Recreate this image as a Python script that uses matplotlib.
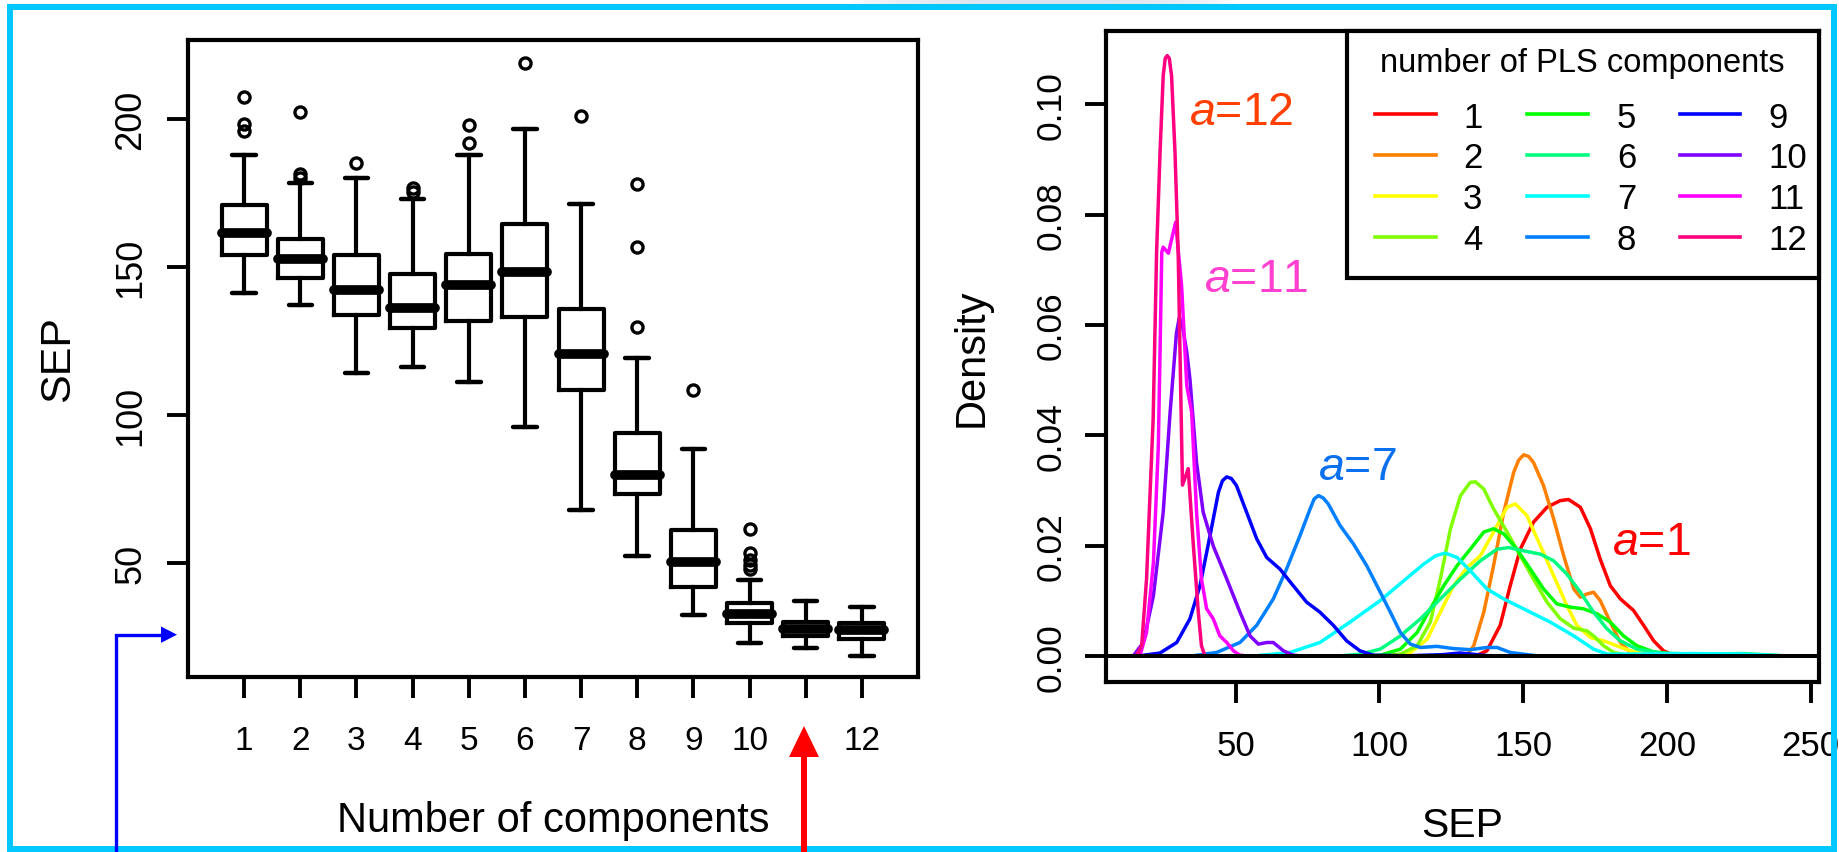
import matplotlib
matplotlib.use("Agg")
import matplotlib.pyplot as plt
import matplotlib.transforms as mtransforms
from matplotlib.lines import Line2D
from matplotlib.patches import Rectangle, Polygon
import numpy as np

plt.rcParams['font.family'] = ['Liberation Sans', 'DejaVu Sans']
plt.rcParams['mathtext.fontset'] = 'custom'
plt.rcParams['mathtext.rm'] = 'Liberation Sans'
plt.rcParams['mathtext.it'] = 'Liberation Sans:italic'

W, H, DPI = 1840, 853, 100

# ---------------- boxplot data: SEP per number of PLS components ----------------
components = [1, 2, 3, 4, 5, 6, 7, 8, 9, 10, 11, 12]
tick_labels = ['1', '2', '3', '4', '5', '6', '7', '8', '9', '10', '', '12']
sep_whislo = [141.2, 136.9, 114.1, 116.2, 111.0, 96.0, 67.9, 52.5, 32.3, 23.1, 21.3, 18.7]
sep_q1 = [153.9, 146.3, 133.8, 129.2, 131.6, 133.1, 108.3, 73.3, 41.8, 29.7, 25.3, 24.2]
sep_median = [161.5, 152.5, 142.0, 136.1, 143.7, 148.3, 120.4, 79.7, 50.2, 32.8, 27.7, 27.4]
sep_q3 = [170.7, 159.2, 153.8, 147.4, 154.2, 164.5, 135.8, 93.9, 61.0, 36.5, 30.0, 29.6]
sep_whishi = [187.7, 178.2, 179.9, 173.0, 187.6, 196.4, 171.2, 119.0, 88.5, 44.1, 37.2, 35.2]
sep_outliers = [[207.2, 198.1, 195.8], [202.2, 181.3, 179.9], [185.1], [176.7, 175.2],
                [197.8, 191.9], [218.6], [200.7], [178.0, 156.8, 129.7], [108.3],
                [61.5, 53.2, 51.0, 49.3, 48.0], [], []]

# ---------------- density curves of SEP for a = 1 .. 12 ----------------
sep_a1 = [128, 134, 137.4, 142, 145.5, 149, 153.6, 158.3, 162.9, 165.8, 169.9, 173.4, 176.8,
          180.3, 183.8, 188.4, 191.9, 195.4, 198.8, 202.3, 215, 240]
dens_a1 = [0, 0.0002, 0.001, 0.0056, 0.0128, 0.0194, 0.0243, 0.027, 0.0282, 0.0284, 0.027,
           0.0231, 0.0176, 0.0128, 0.0104, 0.0083, 0.0056, 0.0028, 0.001, 0.0002, 0.0001, 0]
sep_a2 = [125, 130.5, 132.8, 136.3, 139.7, 143.2, 146.7, 148.4, 150.2, 151.9, 153.6, 157.1,
          160.6, 164.1, 167.6, 169.9, 172.2, 174.5, 176.8, 180.3, 183.8, 187.3, 190.7, 195]
dens_a2 = [0, 0.0003, 0.0019, 0.008, 0.0164, 0.026, 0.0333, 0.0355, 0.0365, 0.0362, 0.0351,
           0.0309, 0.0249, 0.0182, 0.0122, 0.0107, 0.0113, 0.0116, 0.0101, 0.0062, 0.0025,
           0.0007, 0.0001, 0]
sep_a3 = [98, 105, 110.8, 116.6, 121.2, 125.8, 130.5, 135.1, 139.7, 144.4, 147.3, 151.3, 156.0,
          160.6, 165.2, 168.7, 173.4, 178, 182.6, 187.3, 191.9, 200]
dens_a3 = [0, 0.0001, 0.0007, 0.0031, 0.008, 0.0128, 0.0161, 0.0182, 0.0225, 0.027, 0.0276,
           0.0255, 0.02, 0.0146, 0.0092, 0.0056, 0.0034, 0.0028, 0.0019, 0.001, 0.0004, 0]
sep_a4 = [100, 107.3, 113.1, 117.7, 121.2, 124.7, 128.2, 131.6, 133.4, 136.3, 139.7, 144.4, 149,
          153.6, 158.3, 162.9, 167.6, 172.2, 174.5, 178, 181.5, 186.1, 192]
dens_a4 = [0, 0.0004, 0.0019, 0.0062, 0.014, 0.0231, 0.0291, 0.0315, 0.0316, 0.0303, 0.0267,
           0.0225, 0.0182, 0.014, 0.0098, 0.0068, 0.0051, 0.0046, 0.0037, 0.0019, 0.0007, 0.0002, 0]
sep_a5 = [92, 100.3, 107.3, 113.1, 117.7, 122.4, 127, 131.6, 136.3, 139.7, 143.2, 147.8, 152.5,
          157.1, 161.7, 166.4, 171, 175.7, 180.3, 184.9, 189.6, 195.4, 202.3, 220, 240]
dens_a5 = [0, 0.0002, 0.0013, 0.0043, 0.0086, 0.0128, 0.0164, 0.0194, 0.0225, 0.0231, 0.0222,
           0.0194, 0.0158, 0.0122, 0.0095, 0.0089, 0.0086, 0.0077, 0.0062, 0.0037, 0.0019, 0.0008,
           0.0004, 0.0003, 0]
sep_a6 = [85, 93.4, 100.3, 107.3, 114.3, 121.2, 128.2, 135.1, 140.9, 145, 150.2, 156, 160.6,
          165.2, 169.9, 174.5, 179.1, 183.8, 189.6, 197.7, 209.3, 226.7, 244]
dens_a6 = [0, 0.0004, 0.0013, 0.0037, 0.0068, 0.0104, 0.014, 0.0173, 0.0194, 0.0197, 0.0191,
           0.0185, 0.0173, 0.0149, 0.0116, 0.008, 0.005, 0.0028, 0.0013, 0.0006, 0.0004, 0.0005, 0]
sep_a7 = [52, 57.3, 68.9, 79.3, 89.8, 100.3, 108.5, 115.4, 119.5, 122.9, 127, 131.6, 137.4,
          143.2, 151.3, 159.4, 167.6, 174.5, 179.1, 186.1, 209.3, 226.7, 244]
dens_a7 = [0, 0.0001, 0.0007, 0.0025, 0.0062, 0.0101, 0.0137, 0.0167, 0.0182, 0.0187, 0.0179,
           0.0155, 0.0122, 0.0104, 0.0083, 0.0062, 0.0037, 0.0013, 0.0004, 0.0004, 0.0005, 0.0004, 0]
sep_a8 = [30, 35.3, 43.4, 51.5, 57.3, 63.1, 67.7, 72.4, 75.9, 77.3, 78.8, 80.4, 82.2, 86.3, 90.9,
          95.6, 100.3, 103.8, 107.3, 110.8, 114.3, 120, 125.8, 131.6, 137.4, 140.9, 145.5, 156]
dens_a8 = [0, 0.0001, 0.0007, 0.0025, 0.0056, 0.0104, 0.0158, 0.0219, 0.0267, 0.0285, 0.0291,
           0.0287, 0.0276, 0.0237, 0.0204, 0.0164, 0.0116, 0.008, 0.0043, 0.0022, 0.0016, 0.0018,
           0.0014, 0.0012, 0.0016, 0.0016, 0.0007, 0]
sep_a9 = [14, 16.7, 23.7, 29.5, 34.1, 37.6, 41.1, 44, 45.4, 46.9, 48.5, 50.3, 53.8, 57.3, 60.8,
          65.4, 70, 74.7, 79.3, 84, 88.6, 93.2, 97.9, 110, 122, 128, 134, 140]
dens_a9 = [0, 0.0001, 0.0006, 0.0025, 0.0068, 0.0128, 0.0219, 0.0297, 0.0318, 0.0325, 0.0322,
           0.0309, 0.0261, 0.0213, 0.0179, 0.0158, 0.0128, 0.0098, 0.008, 0.0056, 0.0028, 0.001,
           0.0002, 0.0001, 0.0003, 0.0006, 0.0003, 0]
sep_a10 = [12, 14.4, 17.9, 21.4, 24.8, 27.2, 29.4, 30.4, 31.5, 33.0, 34.1, 36.4, 38.7, 42.2,
           46.9, 51.5, 55, 57.9, 60.8, 63.1, 66.6, 70, 74]
dens_a10 = [0, 0.0001, 0.0025, 0.011, 0.0261, 0.0442, 0.0585, 0.0614, 0.0598, 0.0551, 0.0502,
            0.0351, 0.0261, 0.02, 0.014, 0.008, 0.0037, 0.0022, 0.0025, 0.0025, 0.001, 0.0002, 0]
sep_a11 = [14, 16.7, 19, 21.4, 23.1, 23.7, 24.3, 24.8, 26.6, 29.1, 31.2, 33, 34.7, 36.4, 38.1,
           39.9, 42.2, 44.5, 46.9, 49.2, 51.5, 55]
dens_a11 = [0, 0.0001, 0.0043, 0.017, 0.038, 0.0551, 0.0732, 0.0741, 0.073, 0.0786, 0.0671,
            0.049, 0.0442, 0.0261, 0.014, 0.0086, 0.0068, 0.0037, 0.0025, 0.001, 0.0002, 0]
sep_a12 = [13, 15.5, 17.3, 19, 21.3, 22.5, 23.7, 24.8, 25.5, 26.2, 26.9, 27.7, 28.9, 30.0, 31.5,
           33.5, 35.3, 37, 38.1, 39.3, 42]
dens_a12 = [0, 0.0001, 0.0019, 0.014, 0.043, 0.0732, 0.0913, 0.1052, 0.1083, 0.1088, 0.1083,
            0.1052, 0.0913, 0.0732, 0.031, 0.034, 0.02, 0.008, 0.0019, 0.0001, 0]

curve_colors = ['#FF0000', '#FF8000', '#FFFF00', '#80FF00', '#00FF00', '#00FF80',
                '#00FFFF', '#0080FF', '#0000FF', '#8000FF', '#FF00FF', '#FF0080']
legend_labels = [str(c) for c in components]
legend_title = 'number of PLS components'

# ---------------- figure ----------------
fig = plt.figure(figsize=(W / DPI, H / DPI), dpi=DPI)
fig.patch.set_facecolor('white')
# transform working in pixels, origin at top-left
pix = mtransforms.Affine2D().scale(1 / W, -1 / H).translate(0, 1) + fig.transFigure


def rect(x0, y0, x1, y1):
    return [x0 / W, 1 - y1 / H, (x1 - x0) / W, (y1 - y0) / H]


SPINE_LW = 3.0
TICK_LEN = 15
TICK_W = 2.8

# ---- left: boxplots ----
L = dict(x0=188, y0=40.7, x1=918, y1=678)
ax1 = fig.add_axes(rect(L['x0'], L['y0'], L['x1'], L['y1']))
stats = []
for i in range(len(components)):
    stats.append(dict(med=sep_median[i], q1=sep_q1[i], q3=sep_q3[i],
                      whislo=sep_whislo[i], whishi=sep_whishi[i],
                      fliers=sep_outliers[i]))
ax1.bxp(stats, positions=components, widths=0.8, capwidths=0.42, manage_ticks=False,
        boxprops=dict(linewidth=3.0, color='k'),
        whiskerprops=dict(linewidth=3.0, color='k', linestyle='-'),
        capprops=dict(linewidth=3.2, color='k', solid_capstyle='round'),
        medianprops=dict(linewidth=7.0, color='k', solid_capstyle='round'),
        flierprops=dict(marker='o', markersize=8, markerfacecolor='none',
                        markeredgecolor='k', markeredgewidth=2.4))
ax1.set_xlim(0, 13)
ax1.set_ylim(11.5, 226.6)
ax1.set_xticks(components)
ax1.set_xticklabels(tick_labels)
ax1.set_yticks([50, 100, 150, 200])
ax1.set_yticklabels(['50', '100', '150', '200'], rotation=90, va='center')
ax1.tick_params(direction='out', length=TICK_LEN, width=TICK_W)
ax1.tick_params(axis='x', labelsize=24, pad=19.2)
ax1.tick_params(axis='y', labelsize=26, pad=13.5)
for s in ax1.spines.values():
    s.set_linewidth(SPINE_LW)
ax1.set_xlabel('Number of components', fontsize=30, va='baseline')
ax1.xaxis.set_label_coords(0.5, (L['y1'] - 832) / (L['y1'] - L['y0']))
ax1.set_ylabel('SEP', fontsize=31, va='baseline')
ax1.yaxis.set_label_coords((69 - L['x0']) / (L['x1'] - L['x0']), 0.5)

# ---- right: density curves ----
R = dict(x0=1106, y0=32.3, x1=1819, y1=682.7)
ax2 = fig.add_axes(rect(R['x0'], R['y0'], R['x1'], R['y1']))
curves = [(sep_a1, dens_a1), (sep_a2, dens_a2), (sep_a3, dens_a3), (sep_a4, dens_a4),
          (sep_a5, dens_a5), (sep_a6, dens_a6), (sep_a7, dens_a7), (sep_a8, dens_a8),
          (sep_a9, dens_a9), (sep_a10, dens_a10), (sep_a11, dens_a11), (sep_a12, dens_a12)]
for (xs, ys), col in zip(curves, curve_colors):
    ax2.plot(xs, ys, color=col, lw=2.5, solid_joinstyle='round', solid_capstyle='round')
ax2.axhline(0, color='k', lw=2.9)
ax2.set_xlim(4.9, 252.9)
ax2.set_ylim(-0.0046, 0.1132)
ax2.set_xticks([50, 100, 150, 200, 250])
ax2.set_xticklabels(['50', '100', '150', '200', '250'])
ax2.set_yticks([0.0, 0.02, 0.04, 0.06, 0.08, 0.10])
ax2.set_yticklabels(['0.00', '0.02', '0.04', '0.06', '0.08', '0.10'], rotation=90, va='center')
ax2.tick_params(direction='out', length=TICK_LEN, width=TICK_W)
ax2.tick_params(axis='x', labelsize=25, pad=19.4)
ax2.tick_params(axis='y', labelsize=25.5, pad=12.5)
for s in ax2.spines.values():
    s.set_linewidth(SPINE_LW)
ax2.set_xlabel('SEP', fontsize=29.5, va='baseline')
ax2.xaxis.set_label_coords(0.5, (R['y1'] - 836.7) / (R['y1'] - R['y0']))
ax2.set_ylabel('Density', fontsize=30, va='baseline')
ax2.yaxis.set_label_coords((983 - R['x0']) / (R['x1'] - R['x0']), 0.5)

# curve annotations
ann = [(r'$\mathit{a}$=12', 1189, 125, '#FF4000'),
       (r'$\mathit{a}$=11', 1204, 291.7, '#FF40D0'),
       (r'$\mathit{a}$=7', 1318, 480, '#0A70F0'),
       (r'$\mathit{a}$=1', 1612, 555, '#FF0000')]
for txt, x, y, col in ann:
    fig.text(x, y, txt, transform=pix, fontsize=33.5, color=col, ha='left', va='baseline')

# legend box
lg = dict(x0=1347, y0=R['y0'], x1=R['x1'], y1=279.3)
fig.add_artist(Rectangle((lg['x0'], lg['y0']), lg['x1'] - lg['x0'], lg['y1'] - lg['y0'],
                         transform=pix, facecolor='white', edgecolor='k', lw=SPINE_LW,
                         zorder=3))
fig.text(1582, 71.7, legend_title, transform=pix, fontsize=23.5, ha='center', va='baseline',
         zorder=4)
col_line_x = [(1375, 1436), (1527, 1588), (1680, 1740)]
col_text_x = [1463, 1617, 1768]
row_y = [115, 155.7, 196.7, 237.7]
for k, (lab, col) in enumerate(zip(legend_labels, curve_colors)):
    c, r = divmod(k, 4)
    fig.add_artist(Line2D(col_line_x[c], [row_y[r], row_y[r]], transform=pix, color=col,
                          lw=2.6, zorder=4))
    fig.text(col_text_x[c], row_y[r] + 12.5, lab, transform=pix, fontsize=25, ha='left',
             va='baseline', zorder=4)

# ---- page decorations: frame, haze, arrows ----
haze = fig.add_axes(rect(850, 0, 1235, 6))
prof = np.sin(np.linspace(0, np.pi, 200)) ** 0.6
img = np.zeros((1, 200, 4))
img[..., 0], img[..., 1], img[..., 2] = 0.84, 0.88, 0.93
img[0, :, 3] = prof * 0.9
haze.imshow(img, aspect='auto', interpolation='bilinear')
haze.set_axis_off()

frame_col = '#00C8FF'
fig.add_artist(Line2D([10.3, 1834, 1834, 10.3, 10.3], [8, 8, 850.5, 850.5, 8], transform=pix,
                      color=frame_col, lw=4.3, solid_joinstyle='miter', zorder=5))

blue = '#0000FF'
fig.add_artist(Line2D([116, 116, 163], [860, 635.7, 635.7], transform=pix, color=blue, lw=2.4,
                      solid_joinstyle='miter', zorder=6))
fig.add_artist(Polygon([(161, 627.5), (177, 635.7), (161, 643.9)], closed=True, transform=pix,
                       facecolor=blue, edgecolor='none', zorder=6))
red = '#FF0000'
fig.add_artist(Line2D([804, 804], [860, 756], transform=pix, color=red, lw=4.3, zorder=6))
fig.add_artist(Polygon([(789, 758), (804, 727), (819, 758)], closed=True, transform=pix,
                       facecolor=red, edgecolor='none', zorder=6))

fig.savefig('out.png', dpi=DPI, facecolor='white')
